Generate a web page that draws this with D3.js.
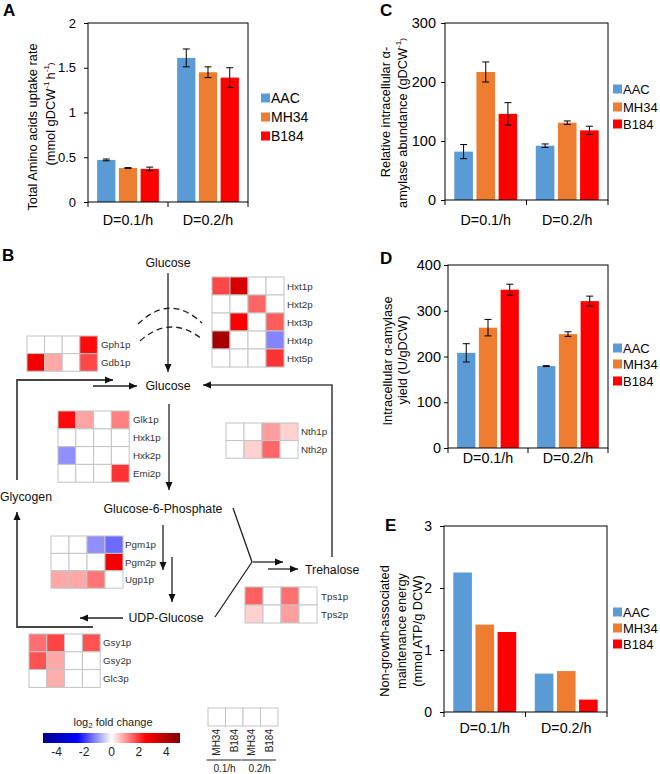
<!DOCTYPE html>
<html><head><meta charset="utf-8">
<script src="https://cdn.jsdelivr.net/npm/d3@7"></script>
<style>
body{margin:0;background:#fff;}
svg{display:block;font-family:"Liberation Sans",Arial,sans-serif;}
</style></head>
<body>
<svg id="fig" width="660" height="774"></svg>
<script>
// ---------------- DATA ----------------
const groups = ["D=0.1/h", "D=0.2/h"];
const strains = ["AAC", "MH34", "B184"];

// Panel A: total amino acids uptake rate (rows = strains, cols = groups)
const uptakeTicks = [0, 0.5, 1, 1.5, 2];
const uptakeRate = [[0.47, 1.61], [0.38, 1.45], [0.37, 1.39]];
const uptakeErr  = [[0.01, 0.10], [0.004, 0.06], [0.02, 0.11]];

// Panel C: relative intracellular alpha-amylase abundance
const abundTicks = [0, 100, 200, 300];
const abundValue = [[82, 92], [217, 131], [146, 118]];
const abundErr   = [[12, 3], [17, 3], [19, 7]];

// Panel D: intracellular alpha-amylase yield
const yieldTicks = [0, 100, 200, 300, 400];
const yieldValue = [[208, 179], [263, 249], [346, 321]];
const yieldErr   = [[20, 1], [18, 5], [12, 11]];

// Panel E: non-growth-associated maintenance energy
const ngamTicks = [0, 1, 2, 3];
const ngamValue = [[2.25, 0.62], [1.41, 0.66], [1.29, 0.20]];

// Panel B: heatmaps, log2 fold change (columns: MH34 0.1/h, B184 0.1/h, MH34 0.2/h, B184 0.2/h)
const heatColumns = ["MH34", "B184", "MH34", "B184"];
const heatDilution = ["0.1/h", "0.2/h"];
const hxtGenes = ["Hxt1p", "Hxt2p", "Hxt3p", "Hxt4p", "Hxt5p"];
const hxtFC = [[1.8, 3.3, 0, 0], [0, 0, 1.5, 0], [0, 2.6, 0, 1.6], [4.3, 0, 0, -1.2], [0, 0, 0, 2.0]];
const gphGenes = ["Gph1p", "Gdb1p"];
const gphFC = [[0, 0, 0, 2.4], [2.7, 0.85, 0, 1.8]];
const glkGenes = ["Glk1p", "Hxk1p", "Hxk2p", "Emi2p"];
const glkFC = [[2.4, 0.9, 0, 1.25], [0, 0, 0, 0], [-1.1, 0, 0, 0], [0, 0, 0, 2.0]];
const nthGenes = ["Nth1p", "Nth2p"];
const nthFC = [[0, 0, 0.95, 0.45], [0, 0.45, 1.5, 0]];
const pgmGenes = ["Pgm1p", "Pgm2p", "Ugp1p"];
const pgmFC = [[0, 0, -1.1, -1.45], [0, 0, 0, 2.8], [0.85, 0.85, 1.35, 0]];
const tpsGenes = ["Tps1p", "Tps2p"];
const tpsFC = [[1.55, 0, 1.4, 0], [0.45, 0, 0.95, 0]];
const gsyGenes = ["Gsy1p", "Gsy2p", "Glc3p"];
const gsyFC = [[1.4, 1.85, 0, 1.7], [1.7, 0.85, 0, 0], [0, 0.8, 0, 0]];
const fcDomain = [-5, 5];
const fcTicks = [-4, -2, 0, 2, 4];

// ---------------- DRAW ----------------
const svg = d3.select("#fig");
const FONT = "Liberation Sans, Arial, sans-serif";
const strainColor = d3.scaleOrdinal().domain(strains).range(["#5b9bd5", "#ed7d31", "#ff0000"]);

function barPanel(o) {
  const g = svg.append("g");
  const x0 = d3.scaleBand().domain(groups).range([o.L, o.R]);
  const x1 = d3.scaleBand().domain(strains).range([0, x0.bandwidth()]).paddingInner(0.16).paddingOuter(0.42);
  const y = d3.scaleLinear().domain([0, o.ticks[o.ticks.length - 1]]).range([o.B, o.T]);
  strains.forEach((s, si) => {
    groups.forEach((gr, gi) => {
      const v = o.values[si][gi];
      const bx = x0(gr) + x1(s);
      g.append("rect").attr("x", bx).attr("y", y(v)).attr("width", x1.bandwidth())
        .attr("height", y(0) - y(v)).attr("fill", strainColor(s));
      if (o.errs) {
        const e = o.errs[si][gi];
        const cx = bx + x1.bandwidth() / 2;
        g.append("line").attr("x1", cx).attr("x2", cx).attr("y1", y(v - e)).attr("y2", y(v + e))
          .attr("stroke", "#000").attr("stroke-width", 1);
        [v - e, v + e].forEach(ev => g.append("line").attr("x1", cx - 3.5).attr("x2", cx + 3.5)
          .attr("y1", y(ev)).attr("y2", y(ev)).attr("stroke", "#000").attr("stroke-width", 1));
      }
    });
  });
  g.append("rect").attr("x", o.L).attr("y", o.T).attr("width", o.R - o.L).attr("height", o.B - o.T)
    .attr("fill", "none").attr("stroke", "#000").attr("stroke-width", 1);
  const ya = g.append("g").attr("transform", `translate(${o.L},0)`)
    .call(d3.axisLeft(y).tickValues(o.ticks).tickSize(4).tickPadding(o.pad).tickFormat(d3.format("~g")));
  ya.select(".domain").remove();
  ya.selectAll("text").attr("font-size", o.tickFont).attr("font-family", FONT).attr("fill", "#000");
  ya.selectAll("line").attr("stroke", "#000");
  const bounds = [o.L, o.L + x0.bandwidth(), o.R];
  bounds.forEach(bx => g.append("line").attr("x1", bx).attr("x2", bx).attr("y1", o.B).attr("y2", o.B + 5).attr("stroke", "#000"));
  groups.forEach(gr => g.append("text").attr("x", x0(gr) + x0.bandwidth() / 2).attr("y", o.xLabelY)
    .attr("text-anchor", "middle").attr("dominant-baseline", "central").attr("font-size", 14.3).text(gr));
  strains.forEach((s, i) => {
    g.append("rect").attr("x", o.legX).attr("y", o.legY[i] - 4.5).attr("width", 9).attr("height", 9).attr("fill", strainColor(s));
    g.append("text").attr("x", o.legX + 10).attr("y", o.legY[i]).attr("dominant-baseline", "central")
      .attr("font-size", o.legFont || 13).text(s);
  });
  o.title.forEach(t => {
    const tx = g.append("text").attr("transform", `translate(${t.x},${t.y}) rotate(-90)`)
      .attr("text-anchor", "middle").attr("dominant-baseline", "central").attr("font-size", o.titleFont || 12.8);
    t.parts.forEach(p => {
      if (typeof p === "string") tx.append("tspan").text(p);
      else tx.append("tspan").attr("font-size", 8).attr("dy", p.dy).text(p.t);
    });
  });
  g.append("text").attr("x", o.letter[1]).attr("y", o.letter[2]).attr("font-weight", "bold").attr("font-size", 17).text(o.letter[0]);
}

barPanel({L: 88, R: 248, T: 23, B: 202, ticks: uptakeTicks, values: uptakeRate, errs: uptakeErr,
  xLabelY: 220, legX: 261, legY: [98, 117, 136], legFont: 14, tickFont: 13, pad: 8,
  title: [{x: 32, y: 127, parts: ["Total Amino acids uptake rate"]},
          {x: 50, y: 114, parts: ["(mmol gDCW", {t: "-1", dy: -4}, {t: " ", dy: 4}, "h", {t: "-1", dy: -4}, {t: ")", dy: 4}]}],
  letter: ["A", 3, 16]});

barPanel({L: 445, R: 608, T: 23, B: 200, ticks: abundTicks, values: abundValue, errs: abundErr,
  xLabelY: 220, legX: 613, legY: [89, 107, 124], tickFont: 14.5, pad: 5,
  title: [{x: 385, y: 112, parts: ["Relative intracellular α-"]},
          {x: 402, y: 123, parts: ["amylase abundance (gDCW", {t: "-1", dy: -4}, {t: ")", dy: 4}]}],
  letter: ["C", 380, 16]});

barPanel({L: 448, R: 608, T: 265, B: 448, ticks: yieldTicks, values: yieldValue, errs: yieldErr,
  xLabelY: 458, legX: 613, legY: [348, 364, 381], tickFont: 14.5, pad: 3,
  title: [{x: 387, y: 361, parts: ["Intracellular α-amylase"]},
          {x: 402, y: 360, parts: ["yield (U/gDCW)"]}],
  letter: ["D", 380, 264]});

barPanel({L: 444, R: 607, T: 526, B: 712, ticks: ngamTicks, values: ngamValue, errs: null,
  xLabelY: 728, legX: 613, legY: [612, 628, 644], tickFont: 14, pad: 8,
  title: [{x: 384, y: 631, parts: ["Non-growth-associated"]},
          {x: 401, y: 631, parts: ["maintenance energy"]},
          {x: 417, y: 631, parts: ["(mmol ATP/g DCW)"]}],
  letter: ["E", 385, 531]});

// ---------------- PANEL B ----------------
const fcColor = d3.scaleLinear().domain([-5, -2.5, 0, 2.5, 5])
  .range(["#00008b", "#0000ff", "#ffffff", "#ff0000", "#800000"]).clamp(true);

svg.append("text").attr("x", 2).attr("y", 261).attr("font-weight", "bold").attr("font-size", 17).text("B");

const defs = svg.append("defs");
defs.append("marker").attr("id", "arr").attr("markerUnits", "userSpaceOnUse")
  .attr("markerWidth", 9).attr("markerHeight", 8).attr("refX", 8).attr("refY", 4).attr("orient", "auto")
  .append("path").attr("d", "M0,0.5 L8,4 L0,7.5 Z").attr("fill", "#111");

const bg = svg.append("g").attr("fill", "none").attr("stroke", "#222").attr("stroke-width", 1.3);
function line(pts, arrow, w) {
  const p = bg.append("path").attr("d", d3.line()(pts));
  if (w) p.attr("stroke-width", w).attr("stroke", "#444");
  if (arrow) p.attr("marker-end", "url(#arr)");
  return p;
}
line([[168, 273], [168, 372]], true);
line([[17, 480], [17, 380], [113, 380]], true, 1.8);
line([[93, 386], [137, 386]], true);
line([[332, 557], [332, 385], [203, 385]], true, 1.6);
line([[169, 404], [169, 490]], true);
line([[163, 525], [163, 570]], true);
line([[172, 557], [172, 602]], true);
line([[123, 618], [80, 618]], true);
line([[93, 627], [17, 627], [17, 512]], true, 1.8);
line([[233, 508], [252, 562], [215, 617]], false);
line([[253, 562], [283, 562]], true);
line([[268, 569], [298, 569]], true);
bg.append("path").attr("d", "M138,324 Q170,293 202,323").attr("stroke-dasharray", "6,4");
bg.append("path").attr("d", "M140,341 Q170,314 202,339").attr("stroke-dasharray", "6,4");

const tg = svg.append("g").attr("font-size", 12.3).attr("fill", "#111");
[["Glucose", 168, 263, "middle"], ["Glucose", 168, 386, "middle"], ["Glycogen", 26, 497, "middle"],
 ["Glucose-6-Phosphate", 163, 509, "middle"], ["UDP-Glucose", 166, 618, "middle"], ["Trehalose", 305, 570, "start"]]
  .forEach(([t, x, y, a]) => tg.append("text").attr("x", x).attr("y", y).attr("text-anchor", a)
    .attr("dominant-baseline", "central").text(t));

function heatmap(genes, fc, x, y, cw, ch, labelX) {
  const g = svg.append("g");
  const xs = d3.scaleBand().domain(d3.range(heatColumns.length)).range([x, x + cw * heatColumns.length]);
  const ys = d3.scaleBand().domain(genes).range([y, y + ch * genes.length]);
  genes.forEach((gene, r) => {
    fc[r].forEach((v, c) => g.append("rect").attr("x", xs(c)).attr("y", ys(gene))
      .attr("width", xs.bandwidth()).attr("height", ys.bandwidth())
      .attr("fill", fcColor(v)).attr("stroke", "#c4c4c4").attr("stroke-width", 1));
    g.append("text").attr("x", labelX).attr("y", ys(gene) + ys.bandwidth() / 2).attr("dominant-baseline", "central")
      .attr("font-size", 9.8).attr("fill", "#333").text(gene);
  });
}
heatmap(hxtGenes, hxtFC, 212, 277, 18, 18, 287);
heatmap(gphGenes, gphFC, 27, 336, 17.6, 17.6, 101);
heatmap(glkGenes, glkFC, 58, 411, 17.8, 17.8, 133);
heatmap(nthGenes, nthFC, 226, 423, 18, 17.6, 301);
heatmap(pgmGenes, pgmFC, 51, 536, 18, 17.4, 125);
heatmap(tpsGenes, tpsFC, 245, 587, 18, 18, 321);
heatmap(gsyGenes, gsyFC, 29, 634, 17.8, 17.8, 103);

const lg = svg.append("g");
const lx = d3.scaleBand().domain(d3.range(heatColumns.length)).range([208, 278]);
heatColumns.forEach((c, i) => {
  lg.append("rect").attr("x", lx(i)).attr("y", 708).attr("width", lx.bandwidth()).attr("height", 18)
    .attr("fill", "#fff").attr("stroke", "#c4c4c4");
  lg.append("text").attr("transform", `translate(${lx(i) + lx.bandwidth() / 2},729) rotate(-90)`)
    .attr("text-anchor", "end").attr("dominant-baseline", "central").attr("font-size", 10).attr("fill", "#222").text(c);
});
heatDilution.forEach((d, k) => {
  const x1 = lx(2 * k) - 2, x2 = lx(2 * k + 1) + lx.bandwidth() - 2;
  lg.append("line").attr("x1", x1 + 0.5).attr("x2", x2).attr("y1", 760).attr("y2", 760).attr("stroke", "#222").attr("stroke-width", 1.2);
  lg.append("text").attr("x", (x1 + x2) / 2 + 1).attr("y", 772).attr("text-anchor", "middle").attr("font-size", 10).attr("fill", "#222").text(d);
});

const cbx = d3.scaleLinear().domain(fcDomain).range([43, 180]);
const grad = defs.append("linearGradient").attr("id", "cb");
d3.range(0, 1.0001, 0.05).forEach(t => grad.append("stop").attr("offset", t)
  .attr("stop-color", fcColor(fcDomain[0] + t * (fcDomain[1] - fcDomain[0]))));
svg.append("rect").attr("x", cbx(fcDomain[0])).attr("y", 733).attr("width", cbx(fcDomain[1]) - cbx(fcDomain[0]))
  .attr("height", 10).attr("fill", "url(#cb)");
fcTicks.forEach(t => svg.append("text").attr("x", cbx(t)).attr("y", 752).attr("text-anchor", "middle")
  .attr("dominant-baseline", "central").attr("font-size", 12).attr("fill", "#222").text(t < 0 ? "-" + Math.abs(t) : t));
const lt = svg.append("text").attr("x", 113).attr("y", 722).attr("text-anchor", "middle").attr("dominant-baseline", "central")
  .attr("font-size", 11).attr("fill", "#222");
lt.append("tspan").text("log");
lt.append("tspan").attr("font-size", 8).attr("dy", 3).text("2");
lt.append("tspan").attr("dy", -3).text(" fold change");
</script>
</body></html>
